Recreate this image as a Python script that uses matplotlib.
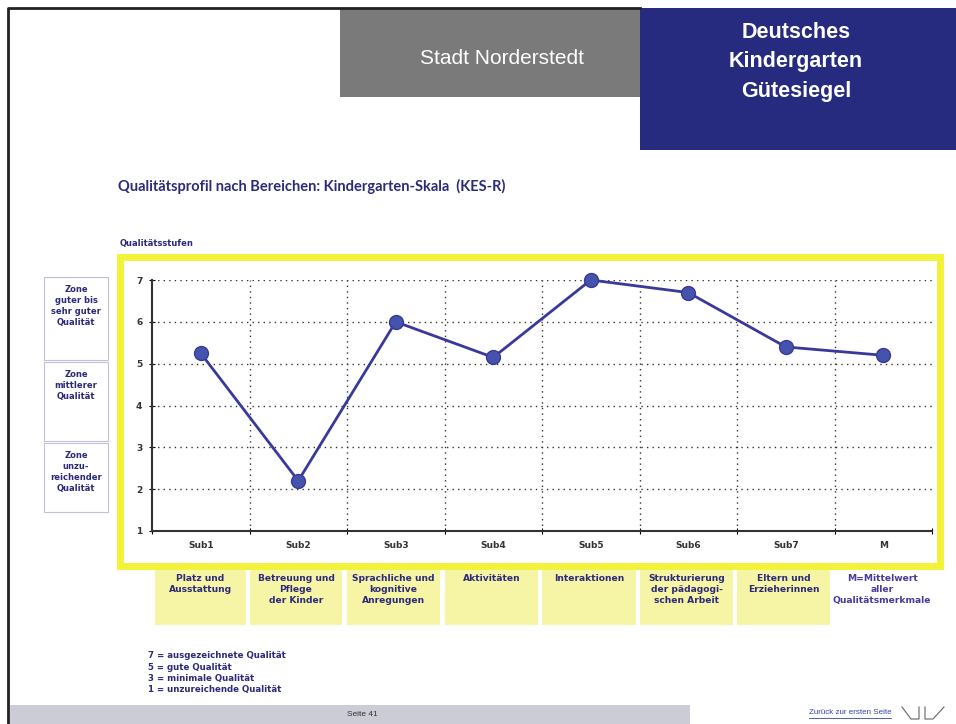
import matplotlib
matplotlib.use("Agg")
import matplotlib.pyplot as plt
from matplotlib.patches import Rectangle

W, H = 956, 724

categories = ["Sub1", "Sub2", "Sub3", "Sub4", "Sub5", "Sub6", "Sub7", "M"]
values = [5.25, 2.2, 6.0, 5.15, 7.0, 6.7, 5.4, 5.2]
yticks = [1, 2, 3, 4, 5, 6, 7]
cat_labels = ["Platz und\nAusstattung", "Betreuung und\nPflege\nder Kinder",
              "Sprachliche und\nkognitive\nAnregungen", "Aktivitäten", "Interaktionen",
              "Strukturierung\nder pädagogi-\nschen Arbeit", "Eltern und\nErzieherinnen"]
mean_label = "M=Mittelwert\naller\nQualitätsmerkmale"
zones = ["Zone\nguter bis\nsehr guter\nQualität", "Zone\nmittlerer\nQualität",
         "Zone\nunzu-\nreichender\nQualität"]
legend_lines = ["7 = ausgezeichnete Qualität", "5 = gute Qualität",
                "3 = minimale Qualität", "1 = unzureichende Qualität"]

NAVY = "#2b2b7a"
FONT = ["Lato", "DejaVu Sans"]
BODY = ["DejaVu Sans"]

fig = plt.figure(figsize=(W / 100, H / 100), dpi=100)
fig.patch.set_facecolor("white")


def fx(x):
    return x / W


def fy(y):
    return 1 - y / H


def rect(x0, y0, x1, y1, **kw):
    r = Rectangle((fx(x0), fy(y1)), fx(x1) - fx(x0), fy(y0) - fy(y1),
                  transform=fig.transFigure, **kw)
    fig.add_artist(r)
    return r


def line(xs, ys, **kw):
    fig.add_artist(plt.Line2D([fx(x) for x in xs], [fy(y) for y in ys],
                              transform=fig.transFigure, **kw))


# slide border (left and top only)
line([8, 8, 640], [724, 8, 8], color="#222222", lw=2)

# header boxes
rect(340, 9, 640, 97, facecolor="#7a7a7a", edgecolor="none")
fig.text(fx(502), fy(58), "Stadt Norderstedt", color="white", fontsize=15,
         ha="center", va="center", family="Liberation Sans")
rect(640, 8, 956, 150, facecolor="#262b80", edgecolor="none")
fig.text(fx(796), fy(62), "Deutsches\nKindergarten\nGütesiegel", color="white",
         fontsize=15.5, fontweight="bold", ha="center", va="center",
         family="Liberation Sans", linespacing=1.55)

# title
fig.text(fx(118), fy(186), "Qualitätsprofil nach Bereichen: Kindergarten-Skala  (KES-R)",
         color=NAVY, fontsize=10.5, fontweight="bold", ha="left", va="center", family=FONT)
fig.text(fx(120), fy(243), "Qualitätsstufen", color=NAVY, fontsize=6,
         fontweight="bold", ha="left", va="center", family=BODY)

# yellow frame
rect(120, 257, 940, 566, facecolor="none", edgecolor="#f2f23a", lw=5)

# axes
L, R, T, B = 152, 932, 280, 531
ax = fig.add_axes([fx(L), fy(B), fx(R) - fx(L), fy(T) - fy(B)])
ax.set_facecolor("none")
n = len(categories)
xs = [i + 0.5 for i in range(n)]
ax.set_xlim(0, n)
ax.set_ylim(1, 7)
for yv in yticks[1:]:
    ax.plot([0, n], [yv, yv], ls=(0, (1, 3)), color="#333333", lw=1)
for xv in range(1, n):
    ax.plot([xv, xv], [1, 7], ls=(0, (1, 3)), color="#333333", lw=1)
ax.plot(xs, values, color="#38399a", lw=2, marker="o", markersize=10,
        markerfacecolor="#4653ac", markeredgecolor="#38399a", zorder=5, clip_on=False)
for s in ["top", "right"]:
    ax.spines[s].set_visible(False)
for s in ["left", "bottom"]:
    ax.spines[s].set_linewidth(1.5)
    ax.spines[s].set_color("#333333")
ax.set_yticks(yticks)
ax.set_yticklabels([str(v) for v in yticks], fontsize=6.5, fontweight="bold", color="#333333")
ax.set_xticks(range(0, n + 1), minor=False)
ax.set_xticklabels([])
ax.set_xticks(xs, minor=True)
ax.set_xticklabels(categories, minor=True, fontsize=6.5, fontweight="bold", color="#333333")
ax.tick_params(axis="x", which="minor", length=0, pad=7)
ax.tick_params(axis="x", which="major", length=4, direction="inout")
ax.tick_params(axis="y", length=4, direction="inout", pad=5)

# zone boxes
zone_y = [(277, 360), (362, 441), (443, 512)]
for (y0, y1), z in zip(zone_y, zones):
    rect(44, y0, 108, y1, facecolor="none", edgecolor="#c0c0d8", lw=0.8)
    fig.text(fx(76), fy(y0 + 8), z, color=NAVY,
             fontsize=6, fontweight="bold", ha="center", va="top", family=BODY,
             linespacing=1.3)

# category label boxes
box_x = [(155, 246), (250, 342), (347, 440), (445, 538), (542, 636), (640, 733), (737, 830)]
for (x0, x1), lab in zip(box_x, cat_labels):
    rect(x0, 570, x1, 625, facecolor="#f6f5a6", edgecolor="none")
    fig.text(fx((x0 + x1) / 2), fy(574), lab, color=NAVY, fontsize=6.6,
             fontweight="bold", ha="center", va="top", family=BODY,
             linespacing=1.3)
fig.text(fx(882), fy(574), mean_label, color="#4a3a9a", fontsize=6.6,
         fontweight="bold", ha="center", va="top", family=BODY,
         linespacing=1.3)

# legend text
for i, t in enumerate(legend_lines):
    fig.text(fx(148), fy(656 + i * 11.3), t, color=NAVY, fontsize=6.2,
             fontweight="bold", ha="left", va="center", family=BODY)

# footer
rect(10, 705, 690, 724, facecolor="#cbccd6", edgecolor="none")
fig.text(fx(362), fy(714), "Seite 41", fontsize=6, color="#333333", ha="center",
         va="center", family="Liberation Sans")
fig.text(fx(850), fy(713), "Zurück zur ersten Seite", fontsize=5.8, color="#3344aa",
         ha="center", va="center", family="Liberation Sans")
line([809, 891], [718, 718], color="#3344aa", lw=0.6)
line([902, 911, 919, 919], [707, 719, 719, 707], color="#666666", lw=0.8)
line([925, 925, 933, 944], [707, 719, 719, 707], color="#666666", lw=0.8)

fig.savefig("out.png", dpi=100)
